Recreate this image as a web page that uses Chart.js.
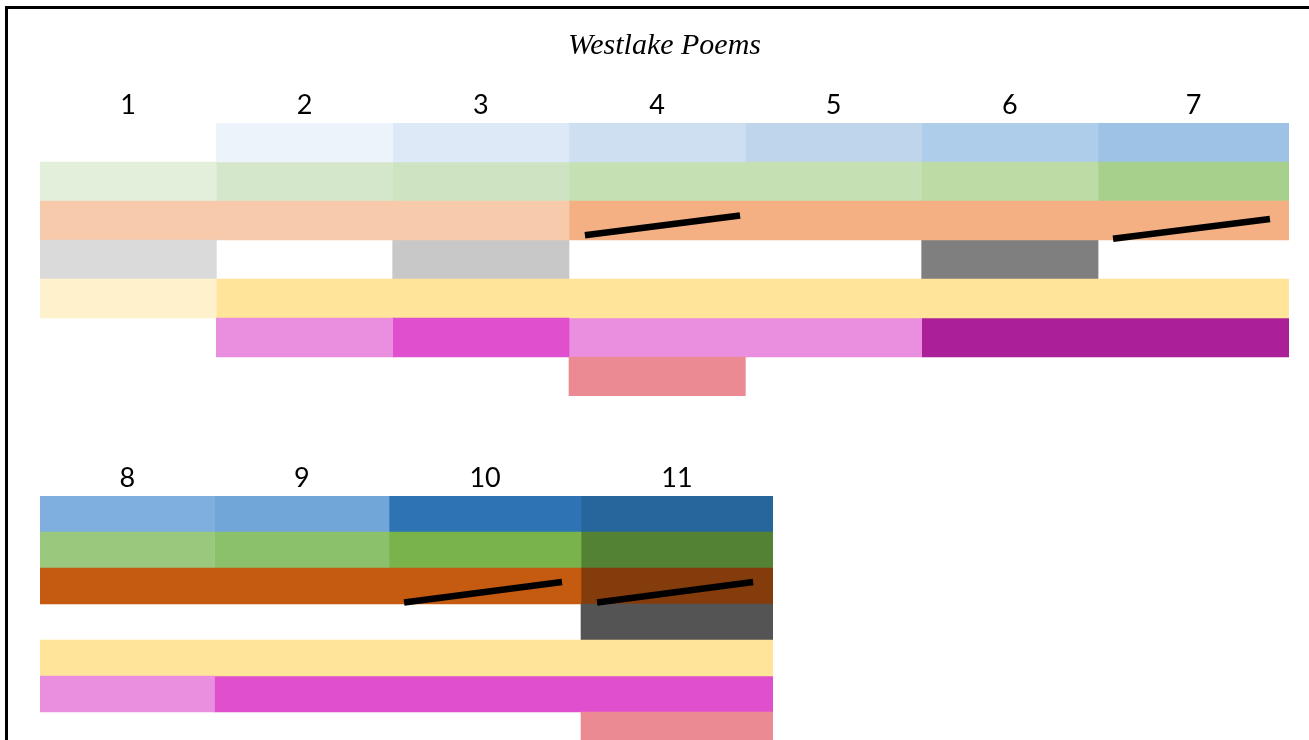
<!DOCTYPE html>
<html><head><meta charset="utf-8">
<script src="https://cdn.jsdelivr.net/npm/chart.js@4.4.1/dist/chart.umd.min.js"></script>
<style>
html,body{margin:0;padding:0;background:#fff;overflow:hidden;width:1309px;height:740px}
#frame{position:absolute;left:5px;top:6px;width:1400px;height:800px;border-left:3px solid #000;border-top:3px solid #000;z-index:5;pointer-events:none}
canvas{position:absolute;left:0}
#topChart{top:0}
#bottomChart{top:400px}
</style></head><body>
<div id="frame"></div>
<canvas id="topChart" width="1309" height="400"></canvas>
<canvas id="bottomChart" width="1309" height="352"></canvas>
<script>
// ---------- DATA ----------
const chartTitle = 'Westlake Poems';
const rowNames = ['blue', 'green', 'orange', 'gray', 'yellow', 'magenta', 'red'];

// panel 1
const topColumns = ['1', '2', '3', '4', '5', '6', '7'];
const topColumnSpans = [1, 1, 1, 1, 1, 1, 1.083];
const topBlue    = [0, 1, 2, 3, 4, 5, 6];
const topGreen   = [1, 2, 3, 4, 4, 5, 6];
const topOrange  = [1, 1, 1, 2, 2, 2, 2];
const topGray    = [1, 0, 2, 0, 0, 3, 0];
const topYellow  = [1, 2, 2, 2, 2, 2, 2];
const topMagenta = [0, 1, 2, 1, 1, 3, 3];
const topRed     = [0, 0, 0, 1, 0, 0, 0];
const topStrikes = [
  [{x: 3.09, y: 2.30}, {x: 3.97, y: 1.73}],
  [{x: 6.085, y: 2.40}, {x: 6.975, y: 1.83}]
];

// panel 2
const bottomColumns = ['8', '9', '10', '11'];
const bottomColumnSpans = [1, 1, 1.1, 1.1];
const bottomBlue    = [7, 8, 9, 10];
const bottomGreen   = [7, 8, 9, 10];
const bottomOrange  = [3, 3, 3, 4];
const bottomGray    = [0, 0, 0, 4];
const bottomYellow  = [2, 2, 2, 2];
const bottomMagenta = [1, 2, 2, 2];
const bottomRed     = [0, 0, 0, 1];
const bottomStrikes = [
  [{x: 2.086, y: 2.39}, {x: 2.991, y: 1.75}],
  [{x: 3.192, y: 2.39}, {x: 4.086, y: 1.75}]
];

// ---------- STYLES ----------
const palettes = [
  [null, '#EDF3FB', '#DDE9F6', '#CDDFF0', '#BED5EC', '#AECDEA', '#9DC2E5', '#7EAFDE', '#70A6D8', '#2E74B5', '#27669C'],
  [null, '#E2EFDA', '#D5E7CB', '#CEE3C2', '#C5E0B3', '#BCDBA5', '#A8D08D', '#9AC97D', '#8BC16A', '#78B34C', '#548235'],
  [null, '#F7CAAC', '#F4B083', '#C55A11', '#843C0C'],
  [null, '#DADADA', '#C8C8C8', '#7F7F7F', '#545454'],
  [null, '#FFF1CC', '#FFE499'],
  [null, '#EA8EDF', '#DF4FCE', '#AB1F99'],
  [null, '#EC8A93']
];
const labelFont = {family: 'Lato', size: 27};

function edgesOf(spans) {
  const e = [0];
  spans.forEach(s => e.push(e[e.length - 1] + s));
  return e;
}
function segmentsOf(levels, edges) {
  const segs = [];
  levels.forEach((lv, i) => {
    const last = segs[segs.length - 1];
    if (lv === 0) return;
    if (last && last.level === lv && last.end === edges[i]) last.end = edges[i + 1];
    else segs.push({start: edges[i], end: edges[i + 1], level: lv});
  });
  return segs;
}

function buildChart(canvasId, columns, spans, rowLevels, strikes, opts) {
  const edges = edgesOf(spans);
  const total = edges[edges.length - 1];
  const centers = spans.map((s, i) => edges[i] + s / 2);
  const rowSegs = rowLevels.map(lv => segmentsOf(lv, edges));
  const maxSegs = Math.max(...rowSegs.map(s => s.length));
  const datasets = [];
  for (let k = 0; k < maxSegs; k++) {
    datasets.push({
      type: 'bar',
      xAxisID: 'x', yAxisID: 'y',
      data: rowSegs.map(s => s[k] ? [s[k].start, s[k].end] : null),
      backgroundColor: rowSegs.map((s, r) => s[k] ? palettes[r][s[k].level] : 'rgba(0,0,0,0)'),
      borderWidth: 0,
      grouped: false,
      categoryPercentage: 1,
      barPercentage: 1
    });
  }
  strikes.forEach(st => datasets.push({
    type: 'line',
    xAxisID: 'x', yAxisID: 'yl',
    data: st,
    borderColor: '#000',
    borderWidth: 6.5,
    borderCapStyle: 'butt',
    pointRadius: 0,
    fill: false,
    order: -1
  }));
  return new Chart(document.getElementById(canvasId), {
    type: 'bar',
    data: {labels: rowNames, datasets},
    options: {
      indexAxis: 'y',
      responsive: false,
      animation: false,
      events: [],
      layout: {padding: opts.padding},
      plugins: {
        legend: {display: false},
        tooltip: {enabled: false},
        title: opts.title ? {
          display: true, text: opts.title, color: '#000',
          font: {family: 'Liberation Serif', style: 'italic', weight: 'normal', size: 30},
          padding: {top: 28, bottom: 7}
        } : {display: false}
      },
      scales: {
        x: {type: 'linear', min: 0, max: total, display: false},
        xt: {
          type: 'linear', axis: 'x', position: 'top', min: 0, max: total,
          grid: {display: false, drawTicks: false}, border: {display: false},
          afterBuildTicks: sc => { sc.ticks = centers.map(v => ({value: v})); },
          afterFit: sc => { sc.height = opts.axisHeight; },
          ticks: {
            autoSkip: false, maxRotation: 0, minRotation: 0, padding: opts.tickPad,
            color: '#000', font: labelFont,
            callback: (v, i) => columns[i]
          }
        },
        y: {type: 'category', display: false, offset: true},
        yl: {type: 'linear', axis: 'y', display: false, min: -0.5, max: rowNames.length - 0.5, reverse: true}
      }
    }
  });
}

buildChart('topChart', topColumns, topColumnSpans,
  [topBlue, topGreen, topOrange, topGray, topYellow, topMagenta, topRed], topStrikes,
  {padding: {left: 40, right: 20, top: 0, bottom: 4}, title: chartTitle, axisHeight: 52, tickPad: 2});

buildChart('bottomChart', bottomColumns, bottomColumnSpans,
  [bottomBlue, bottomGreen, bottomOrange, bottomGray, bottomYellow, bottomMagenta, bottomRed], bottomStrikes,
  {padding: {left: 40, right: 536, top: 0, bottom: 4}, title: null, axisHeight: 96, tickPad: 2});
</script>
</body></html>
